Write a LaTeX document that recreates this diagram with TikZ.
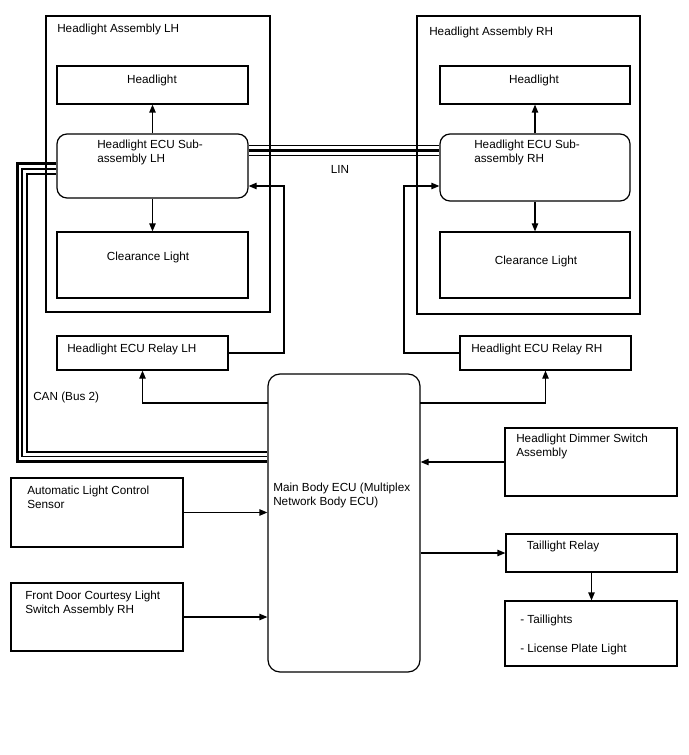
\documentclass[tikz,border=0pt]{standalone}
\usepackage{fontspec}
\setmainfont{Liberation Sans}
\usetikzlibrary{arrows.meta,fit}
\newcommand\lbl{\fontsize{8.8}{10.5}\selectfont}
\begin{document}
\begin{tikzpicture}[x=0.75pt,y=-0.75pt,
  box/.style={draw,line width=0.9pt,inner sep=0pt},
  rbox/.style={box,rounded corners=7.5pt},
  txt/.style={font=\lbl,inner sep=0pt,align=left,anchor=north west,yshift=-1.1pt},
  ctxt/.style={font=\lbl,inner sep=0pt,align=center,anchor=north,yshift=-1.1pt},
  arr/.style={line width=0.9pt,-{Triangle[length=6pt,width=4.8pt]}},
  busthick/.style={line width=2.2pt},
  busthin/.style={line width=0.8pt}]
\useasboundingbox (0,0) rectangle (688,755);
% Assemblies
\node[box,fit={(46,16)(270,312)}] (asmL) {};
\node[txt] (asmLt) at (57,22) {Headlight Assembly LH};
\node[box,fit={(417,16)(640,314)}] (asmR) {};
\node[txt] (asmRt) at (429,25) {Headlight Assembly RH};
% LH inner
\node[box,fit={(57,66)(248,104)}] (hlL) {};
\node[ctxt] (hlLt) at (152,73) {Headlight};
\node[rbox,fit={(57,134)(248,198)}] (ecuL) {};
\node[txt] (ecuLt) at (97,138) {Headlight ECU Sub-\\assembly LH};
\node[box,fit={(57,232)(248,298)}] (clL) {};
\node[ctxt] (clLt) at (148,250) {Clearance Light};
% RH inner
\node[box,fit={(440,66)(630,104)}] (hlR) {};
\node[ctxt] (hlRt) at (534,73) {Headlight};
\node[rbox,fit={(440,134)(630,201)}] (ecuR) {};
\node[txt] (ecuRt) at (474,138) {Headlight ECU Sub-\\assembly RH};
\node[box,fit={(440,232)(630,298)}] (clR) {};
\node[ctxt] (clRt) at (536,254) {Clearance Light};
% relays
\node[box,fit={(57,336)(228,370)}] (relL) {};
\node[txt] (relLt) at (67,342) {Headlight ECU Relay LH};
\node[box,fit={(460,336)(631,370)}] (relR) {};
\node[txt] (relRt) at (471,342) {Headlight ECU Relay RH};
% main ECU
\node[box,rounded corners=9pt,fit={(268,374)(420,672)}] (main) {};
\node[txt] (maint) at (273,481) {Main Body ECU (Multiplex\\Network Body ECU)};
% inputs
\node[box,fit={(505,428)(677,496)}] (dim) {};
\node[txt] (dimt) at (516,432) {Headlight Dimmer Switch\\Assembly};
\node[box,fit={(11,478)(183,547)}] (als) {};
\node[txt] (alst) at (27,484) {Automatic Light Control\\Sensor};
\node[box,fit={(11,583)(183,651)}] (fd) {};
\node[txt] (fdt) at (25,589) {Front Door Courtesy Light\\Switch Assembly RH};
% outputs
\node[box,fit={(506,534)(677,572)}] (tr) {};
\node[ctxt] (trt) at (563,539) {Taillight Relay};
\node[box,fit={(505,601)(677,666)}] (tl) {};
\node[txt] (tlt1) at (520,613) {- Taillights};
\node[txt] (tlt2) at (520,642) {- License Plate Light};
% bus labels
\node[ctxt] (lin) at (340,164) {LIN};
\node[txt] (can) at (33,390) {CAN (Bus 2)};
% arrows inside assemblies
\draw[arr] (ecuL.north) -- (hlL.south);
\draw[arr] (ecuL.south) -- (clL.north);
\draw[arr] (ecuR.north) -- (hlR.south);
\draw[arr] (ecuR.south) -- (clR.north);
% relay to ECU sub-assemblies
\coordinate (kL) at (284,186);
\coordinate (kR) at (404,186);
\draw[arr] (relL.east) -| (kL) -- (kL -| ecuL.east);
\draw[arr] (relR.west) -| (kR) -- (kR -| ecuR.west);
% main ECU to relays
\coordinate (mL) at (268,403);
\coordinate (mR) at (420,403);
\draw[arr] (mL) -| (relL.south);
\draw[arr] (mR) -| (relR.south);
% inputs/outputs
\draw[arr] (dim.west) -- (dim.west -| main.east);
\draw[arr] (als.east) -- (als.east -| main.west);
\draw[arr] (fd.east) -- (fd.east -| main.west);
\draw[arr] (tr.west -| main.east) -- (tr.west);
\draw[arr] (tr.south) -- (tr.south |- tl.north);
% LIN bus
\draw[busthin] (ecuL.east |- 0,145.5) -- (ecuR.west |- 0,145.5);
\draw[busthick] (ecuL.east |- 0,150.5) -- (ecuR.west |- 0,150.5);
\draw[busthin] (ecuL.east |- 0,155.5) -- (ecuR.west |- 0,155.5);
% CAN bus
\draw[busthick] (ecuL.west |- 0,163.5) -- (17.5,163.5) -- (17.5,461.5) -- (main.west |- 0,461.5);
\draw[busthin] (ecuL.west |- 0,169) -- (22,169) -- (22,456.5) -- (main.west |- 0,456.5);
\draw[busthick] (ecuL.west |- 0,174) -- (27,174) -- (27,452) -- (main.west |- 0,452);
\end{tikzpicture}
\end{document}
